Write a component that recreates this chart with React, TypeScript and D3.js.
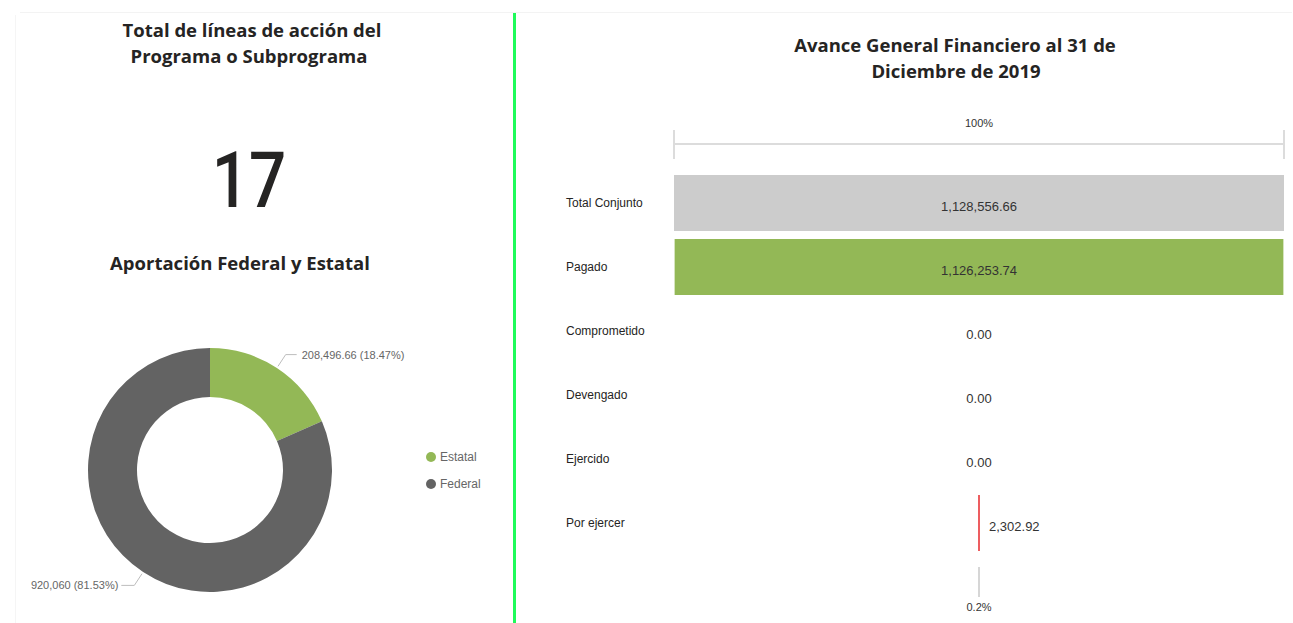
import React from "react";
import * as d3 from "d3";

// funnel data
const funnelCategories = ["Total Conjunto", "Pagado", "Comprometido", "Devengado", "Ejercido", "Por ejercer"];
const funnelValues = [1128556.66, 1126253.74, 0, 0, 0, 2302.92];
const funnelColors = ["#cccccc", "#93b856", "#93b856", "#93b856", "#93b856", "#e8282d"];
const topPercent = "100%";
const bottomPercent = "0.2%";

// donut data
const donutCategories = ["Estatal", "Federal"];
const donutValues = [208496.66, 920060];
const donutLabels = ["208,496.66 (18.47%)", "920,060 (81.53%)"];
const donutColors = ["#93b856", "#636363"];

const totalLines = 17;

const W = 1293;
const H = 623;
const fmt = d3.format(",.2f");

const App = () => {
  // funnel layout
  const fx0 = 674;
  const fx1 = 1284;
  const cx = (fx0 + fx1) / 2;
  const xScale = d3.scaleLinear().domain([0, d3.max(funnelValues) as number]).range([0, fx1 - fx0]);
  const yScale = d3.scaleBand<string>()
    .domain(funnelCategories)
    .range([171, 555])
    .paddingInner(0.125)
    .paddingOuter(0.0625);
  const bw = yScale.bandwidth();

  // donut layout
  const dcx = 210;
  const dcy = 470;
  const outerR = 122;
  const innerR = 73;
  const pie = d3.pie<number>().sort(null).value((d) => d);
  const arcs = pie(donutValues);
  const arc = d3.arc<d3.PieArcDatum<number>>().innerRadius(innerR).outerRadius(outerR);
  const pt = (a: number, r: number) => [Math.sin(a) * r, -Math.cos(a) * r];

  const titleFont = "'Open Sans', sans-serif";
  const smallFont = "'Liberation Sans', Arial, sans-serif";

  return (
    <div style={{ position: "absolute", left: 0, top: 0, width: W, height: H, background: "#fff" }}>
      <svg width={W} height={H} style={{ display: "block" }}>
        {/* frame */}
        <line x1={20} x2={1292} y1={12.5} y2={12.5} stroke="#f3f3f3" />
        <line x1={15.5} x2={15.5} y1={15} y2={H} stroke="#f5f5f5" />
        <line x1={514.5} x2={514.5} y1={13} y2={H} stroke="#1ffb5a" strokeWidth={3} />

        {/* left panel */}
        <g fontFamily={titleFont} fontWeight={700} fontSize={18.5} fill="#252423" textAnchor="middle">
          <text x={252} y={37}>Total de líneas de acción del</text>
          <text x={249} y={63}>Programa o Subprograma</text>
          <text x={240} y={270}>Aportación Federal y Estatal</text>
        </g>
        <text
          x={0}
          y={0}
          textAnchor="middle"
          fontFamily="Roboto, sans-serif"
          fontWeight={500}
          fontSize={78}
          fill="#252423"
          transform="translate(249,207) scale(0.84,1)"
        >
          {totalLines}
        </text>

        <g transform={`translate(${dcx},${dcy})`}>
          {arcs.map((a, i) => (
            <path key={i} d={arc(a) as string} fill={donutColors[i]} />
          ))}
          {arcs.map((a, i) => {
            const mid = (a.startAngle + a.endAngle) / 2;
            const p0 = pt(mid, outerR + 2);
            const p1 = pt(mid, 138);
            const right = Math.sin(mid) > 0;
            const p2 = [p1[0] + (right ? 11 : -13), p1[1]];
            return (
              <g key={"l" + i}>
                <polyline
                  points={[p0, p1, p2].map((p) => p.join(",")).join(" ")}
                  fill="none"
                  stroke="#bdbdbd"
                  strokeWidth={1}
                />
                <text
                  x={p2[0] + (right ? 5 : -3)}
                  y={p2[1] + 4}
                  textAnchor={right ? "start" : "end"}
                  fontFamily={smallFont}
                  fontSize={11}
                  fill="#666"
                >
                  {donutLabels[i]}
                </text>
              </g>
            );
          })}
        </g>

        <g fontFamily={smallFont} fontSize={12} fill="#666">
          {donutCategories.map((c, i) => (
            <g key={c} transform={`translate(431,${457 + i * 27})`}>
              <circle r={5} fill={donutColors[i]} />
              <text x={9} y={4}>{c}</text>
            </g>
          ))}
        </g>

        {/* right panel */}
        <g fontFamily={titleFont} fontWeight={700} fontSize={18.5} fill="#252423" textAnchor="middle">
          <text x={955} y={52}>Avance General Financiero al 31 de</text>
          <text x={956} y={78}>Diciembre de 2019</text>
        </g>

        <g stroke="#dcdcdc" strokeWidth={2}>
          <line x1={fx0} x2={fx1} y1={144} y2={144} />
          <line x1={fx0} x2={fx0} y1={130} y2={159} />
          <line x1={fx1} x2={fx1} y1={130} y2={159} />
        </g>
        <text x={cx} y={127} textAnchor="middle" fontFamily={smallFont} fontSize={11} fill="#333">
          {topPercent}
        </text>

        {funnelCategories.map((c, i) => {
          const y = yScale(c) as number;
          const w = xScale(funnelValues[i]);
          const small = w < 60;
          return (
            <g key={c}>
              <text x={566} y={y + bw / 2 + 4} fontFamily={smallFont} fontSize={12} fill="#252423">
                {c}
              </text>
              {w > 0 && (
                <rect x={cx - Math.max(w, 1.5) / 2} y={y} width={Math.max(w, 1.5)} height={bw} fill={funnelColors[i]} />
              )}
              <text
                x={small && w > 0 ? cx + 10 : cx}
                y={y + bw / 2 + 8}
                textAnchor={small && w > 0 ? "start" : "middle"}
                fontFamily={smallFont}
                fontSize={13}
                fill="#333"
              >
                {fmt(funnelValues[i])}
              </text>
            </g>
          );
        })}

        <line x1={cx} x2={cx} y1={567} y2={597} stroke="#d6d6d6" strokeWidth={2} />
        <text x={cx} y={611} textAnchor="middle" fontFamily={smallFont} fontSize={11} fill="#333">
          {bottomPercent}
        </text>
      </svg>
    </div>
  );
};

export default App;
